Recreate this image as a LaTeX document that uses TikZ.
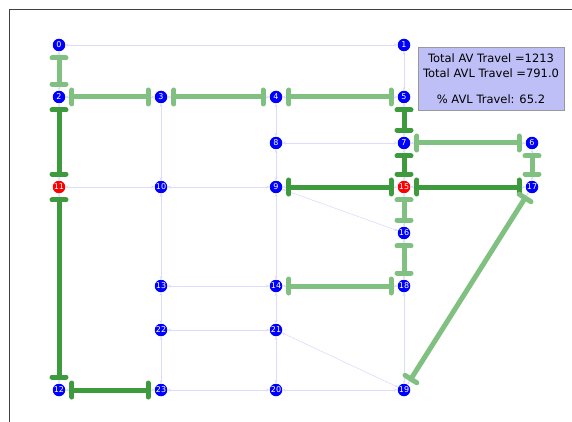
\documentclass[tikz,border=0pt]{standalone}
\usepackage{fontspec}
\setmainfont{DejaVu Sans}
\usetikzlibrary{arrows.meta}
\definecolor{gdark}{HTML}{3D9A3D}
\definecolor{glight}{HTML}{80C080}
\definecolor{road}{HTML}{DCDCFF}
\definecolor{boxfill}{HTML}{BFBFF7}
\tikzset{
  vnode/.style={circle,fill=blue,text=white,inner sep=0pt,minimum size=12.5pt,font=\fontsize{8}{8}\selectfont},
  rnode/.style={vnode,fill=red},
  roadedge/.style={draw=road,line width=0.6pt,{Stealth[length=3.5pt,width=3pt]}-{Stealth[length=3.5pt,width=3pt]}},
  gbar/.style={line width=5pt,{Bar[width=14pt,round]}-{Bar[width=14pt,round]},shorten <=4pt,shorten >=4pt},
  darkg/.style={gbar,draw=gdark},
  lightg/.style={gbar,draw=glight},
}
\begin{document}
\begin{tikzpicture}[x=1pt,y=-1pt]
\useasboundingbox (0,0) rectangle (572,422);
\draw[black!75,line width=0.8pt] (9.5,422) -- (9.5,9.5) -- (572,9.5);
% nodes
\node[vnode] (n0) at (59,45) {0};
\node[vnode] (n1) at (404,45) {1};
\node[vnode] (n2) at (59,97) {2};
\node[vnode] (n3) at (161,97) {3};
\node[vnode] (n4) at (276,97) {4};
\node[vnode] (n5) at (404,97) {5};
\node[vnode] (n6) at (532,143) {6};
\node[vnode] (n7) at (404,143) {7};
\node[vnode] (n8) at (276,143) {8};
\node[vnode] (n9) at (276,187) {9};
\node[vnode] (n10) at (161,187) {10};
\node[rnode] (n11) at (59,187) {11};
\node[vnode] (n12) at (59,390) {12};
\node[vnode] (n13) at (161,286) {13};
\node[vnode] (n14) at (276,286) {14};
\node[rnode] (n15) at (404,187) {15};
\node[vnode] (n16) at (404,233) {16};
\node[vnode] (n17) at (532,187) {17};
\node[vnode] (n18) at (404,286) {18};
\node[vnode] (n19) at (404,390) {19};
\node[vnode] (n20) at (276,390) {20};
\node[vnode] (n21) at (276,330) {21};
\node[vnode] (n22) at (161,330) {22};
\node[vnode] (n23) at (161,390) {23};
% road edges
\foreach \a/\b in {0/1,1/5,0/2,2/3,3/4,4/5,3/10,10/13,13/22,22/23,4/8,8/9,9/14,14/21,21/20,5/7,7/15,15/16,16/18,18/19,8/7,2/11,11/12,11/10,10/9,9/15,15/17,7/6,6/17,9/16,13/14,14/18,22/21,21/19,12/23,23/20,20/19,17/19}
  \draw[roadedge] (n\a) -- (n\b);
% used edges
\foreach \a/\b in {2/11,11/12,12/23,5/7,7/15,9/15,15/17}
  \draw[darkg] (n\a) -- (n\b);
\foreach \a/\b in {0/2,2/3,3/4,4/5,7/6,6/17,15/16,16/18,14/18,17/19}
  \draw[lightg] (n\a) -- (n\b);
% info box
\node[draw=black!40,fill=boxfill,minimum width=146pt,minimum height=63pt,inner sep=0pt,align=center,font=\fontsize{11.5}{15}\selectfont] (info) at (491,78.5)
  {Total AV Travel =1213\\Total AVL Travel =791.0\\[11pt]\% AVL Travel: 65.2};
\end{tikzpicture}
\end{document}
